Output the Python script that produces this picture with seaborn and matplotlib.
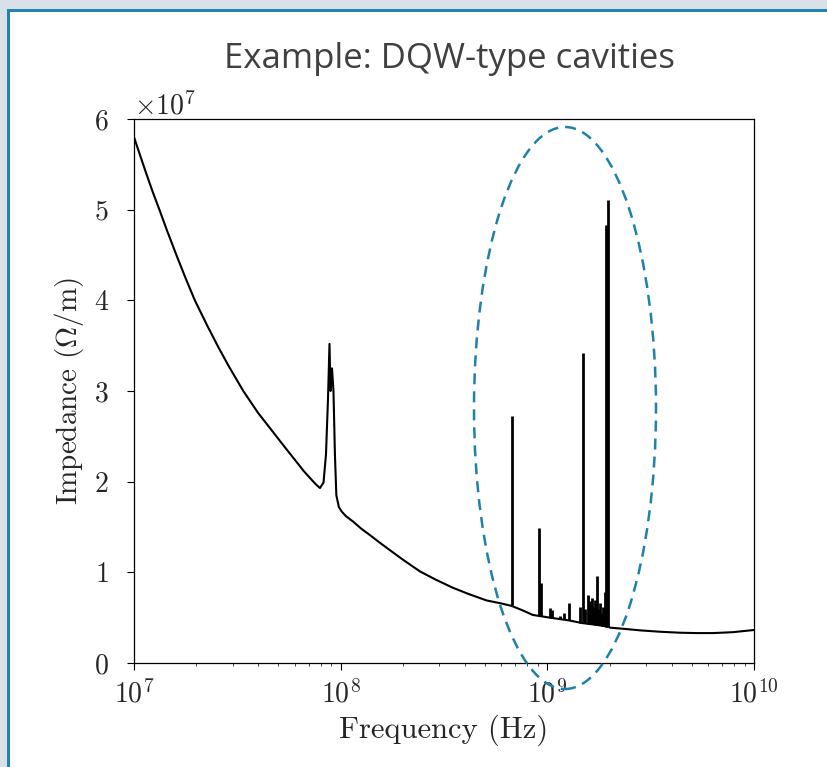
import matplotlib
matplotlib.use("Agg")
import matplotlib.pyplot as plt
import seaborn as sns
from matplotlib.patches import Rectangle, Ellipse
from matplotlib.lines import Line2D

# ---------------- data ----------------
# smooth broadband impedance (incl. the low-frequency resonance near 9e7 Hz)
curve_freq = [1.00e7, 1.07e7, 1.15e7, 1.23e7, 1.327e7, 1.45e7, 1.61e7, 1.78e7,
              1.97e7, 2.24e7, 2.55e7, 2.88e7, 3.38e7, 3.98e7, 4.81e7, 5.37e7,
              6.01e7, 6.61e7, 7.24e7, 7.59e7, 7.94e7, 8.26e7, 8.49e7, 8.68e7,
              8.83e7, 8.93e7, 9.08e7, 9.23e7, 9.38e7, 9.53e7, 9.80e7, 1.012e8,
              1.06e8, 1.148e8, 1.26e8, 1.387e8, 1.52e8, 1.671e8, 2.00e8, 2.42e8,
              2.88e8, 3.49e8, 4.17e8, 5.08e8, 5.90e8, 6.71e8, 7.60e8, 8.51e8,
              1.03e9, 1.27e9, 1.48e9, 1.74e9, 1.97e9, 2.01e9, 2.40e9, 2.81e9,
              3.50e9, 4.38e9, 5.30e9, 6.33e9, 7.90e9, 1.00e10]
curve_z = [5.80e7, 5.60e7, 5.39e7, 5.20e7, 5.00e7, 4.76e7, 4.49e7, 4.24e7,
           4.00e7, 3.74e7, 3.49e7, 3.27e7, 3.00e7, 2.76e7, 2.52e7, 2.38e7,
           2.24e7, 2.12e7, 2.02e7, 1.97e7, 1.93e7, 1.99e7, 2.30e7, 2.90e7,
           3.52e7, 3.00e7, 3.25e7, 3.00e7, 2.30e7, 1.85e7, 1.72e7, 1.67e7,
           1.62e7, 1.56e7, 1.48e7, 1.41e7, 1.34e7, 1.27e7, 1.14e7, 1.01e7,
           0.92e7, 0.83e7, 0.76e7, 0.69e7, 0.66e7, 0.63e7, 0.58e7, 0.53e7,
           0.50e7, 0.47e7, 0.44e7, 0.42e7, 0.40e7, 0.39e7, 0.375e7, 0.36e7,
           0.345e7, 0.334e7, 0.33e7, 0.33e7, 0.34e7, 0.364e7]

# narrow high-frequency resonances
spike_freq = [6.71e8, 9.10e8, 9.37e8, 1.03e9, 1.05e9, 1.15e9, 1.20e9, 1.27e9,
              1.44e9, 1.48e9, 1.52e9, 1.57e9, 1.60e9, 1.64e9, 1.67e9, 1.70e9,
              1.74e9, 1.77e9, 1.80e9, 1.84e9, 1.86e9, 1.90e9, 1.92e9, 1.94e9,
              1.97e9]
spike_base = [0.63e7, 0.52e7, 0.52e7, 0.50e7, 0.50e7, 0.48e7, 0.48e7, 0.47e7,
              0.44e7, 0.44e7, 0.44e7, 0.43e7, 0.43e7, 0.43e7, 0.43e7, 0.42e7,
              0.42e7, 0.42e7, 0.42e7, 0.41e7, 0.41e7, 0.41e7, 0.40e7, 0.40e7,
              0.40e7]
spike_top = [2.72e7, 1.49e7, 0.88e7, 0.61e7, 0.58e7, 0.52e7, 0.55e7, 0.66e7,
             0.62e7, 3.42e7, 0.60e7, 0.75e7, 0.68e7, 0.72e7, 0.62e7, 0.70e7,
             0.96e7, 0.60e7, 0.66e7, 0.55e7, 0.62e7, 0.78e7, 4.83e7, 0.70e7,
             5.11e7]

y_ticks = [0, 1e7, 2e7, 3e7, 4e7, 5e7, 6e7]
title = "Example: DQW-type cavities"
x_label = "Frequency (Hz)"
y_label = r"Impedance $(\Omega/\mathrm{m})$"

# ---------------- style ----------------
sns.set_style("ticks")
plt.rcParams["font.family"] = ["cmr10", "DejaVu Serif"]
plt.rcParams["mathtext.fontset"] = "cm"
plt.rcParams["axes.formatter.use_mathtext"] = True
plt.rcParams["axes.unicode_minus"] = False

W, H = 828, 767
fig = plt.figure(figsize=(W / 100, H / 100), dpi=100, facecolor="white")

# slide background: grey strips on the left and top, blue border lines
slide_grey = "#d9e0e7"
border_color = "#1f84b0"
fig.add_artist(Rectangle((0, 0), 7 / W, 1, transform=fig.transFigure,
                         facecolor=slide_grey, edgecolor="none", zorder=-10))
fig.add_artist(Rectangle((0, 1 - 9 / H), 1, 9 / H, transform=fig.transFigure,
                         facecolor=slide_grey, edgecolor="none", zorder=-10))
fig.add_artist(Rectangle((7 / W, 0), 3 / W, 1 - 9 / H, transform=fig.transFigure,
                         facecolor=border_color, edgecolor="none", zorder=-9))
fig.add_artist(Rectangle((7 / W, 1 - 12 / H), 1 - 7 / W, 3 / H,
                         transform=fig.transFigure, facecolor=border_color,
                         edgecolor="none", zorder=-9))

ax = fig.add_axes([134 / W, 1 - 663 / H, 620 / W, (663 - 119) / H])
ax.set_facecolor("white")

sns.lineplot(x=curve_freq, y=curve_z, ax=ax, color="black", linewidth=1.5)
ax.vlines(spike_freq, spike_base, spike_top, color="black", linewidth=2.0)

ax.set_xscale("log")
ax.set_xlim(1e7, 1e10)
ax.set_ylim(0, 6e7)
ax.set_yticks(y_ticks)

for sp in ax.spines.values():
    sp.set_visible(True)
    sp.set_color("black")
    sp.set_linewidth(0.9)

ax.tick_params(which="major", length=5, width=0.8, direction="out",
               labelsize=20, color="black")
ax.tick_params(axis="x", which="major", pad=7)
ax.tick_params(axis="y", which="major", pad=13)
ax.tick_params(which="minor", length=2.5, width=0.6, direction="out")
ax.yaxis.get_offset_text().set_fontsize(20)

ax.set_xlabel(x_label, fontsize=22, labelpad=4)
ax.set_ylabel(y_label, fontsize=21, labelpad=6)

fig.text(449 / W, 1 - 68 / H, title, ha="center", va="baseline",
         fontsize=25, family="Open Sans", color="#404040")

ell = Ellipse((565 / W, 1 - 408 / H), 182 / W, 562 / H,
              transform=fig.transFigure, fill=False, edgecolor="#1f80ab",
              linewidth=1.8, linestyle=(0, (4.4, 2.8)), zorder=20)
fig.add_artist(ell)

fig.savefig("out.png", dpi=100, facecolor=fig.get_facecolor())
